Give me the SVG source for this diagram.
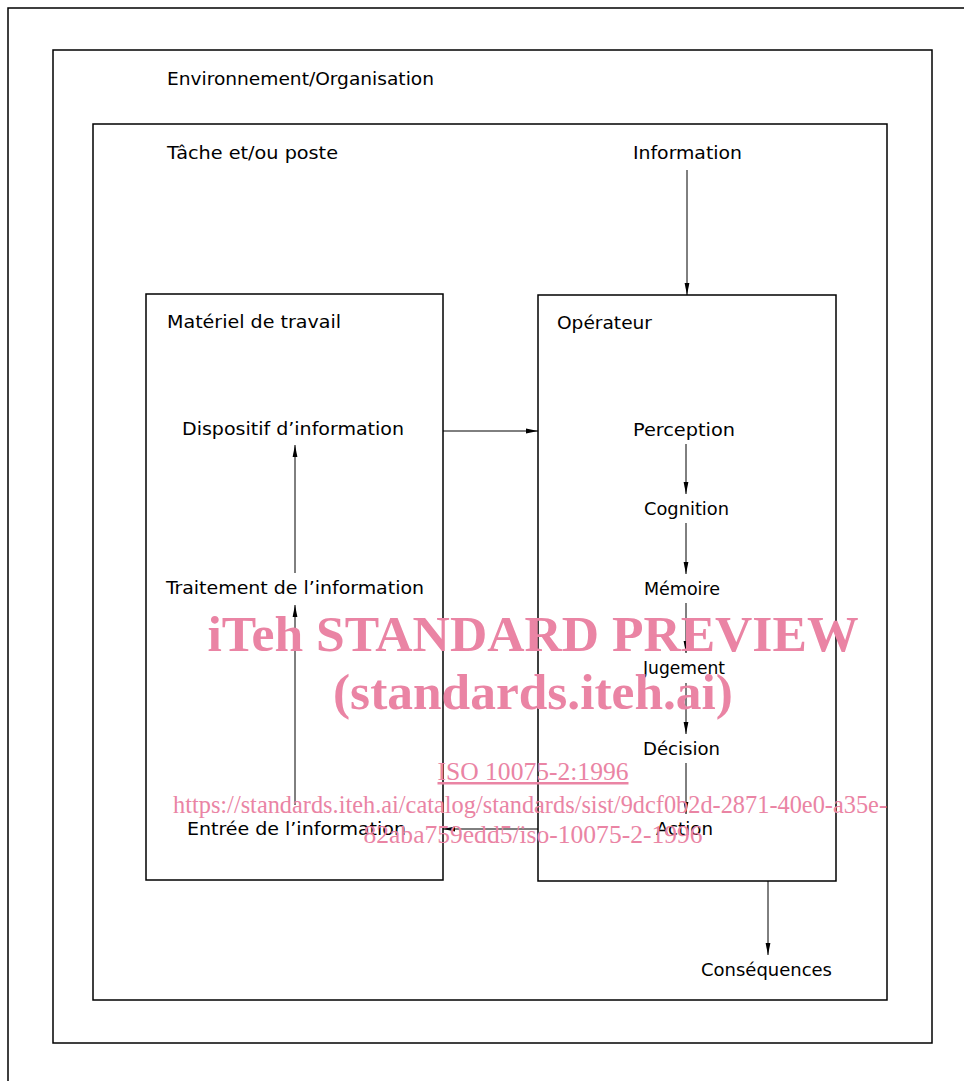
<svg xmlns="http://www.w3.org/2000/svg" width="964" height="1081" viewBox="0 0 964 1081">
<style>
.box{fill:none;stroke:#000;stroke-width:1.5}
.frame{fill:none;stroke:#000;stroke-width:1.5}
.t{font-family:"DejaVu Sans Condensed","DejaVu Sans",sans-serif;font-size:18px;fill:#000}
.ln{fill:none;stroke:#000;stroke-width:1}
.wm{font-family:"Liberation Serif",serif;fill:#ea84a4;text-anchor:middle}
</style>
<defs>
<marker id="ah" viewBox="0 0 12 6" refX="12" refY="3" markerWidth="12" markerHeight="6" markerUnits="userSpaceOnUse" orient="auto">
<path d="M0,0.6 L12,3 L0,5.4 Z" fill="#000"/>
</marker>
</defs>
<rect width="964" height="1081" fill="#fff"/>
<path class="frame" d="M964,8 L8,8 L8,1081"/>
<g id="environnement">
<rect class="box" x="53" y="50" width="879" height="993"/>
<text class="t" x="167" y="85" textLength="267" lengthAdjust="spacingAndGlyphs">Environnement/Organisation</text>
</g>
<g id="tache">
<rect class="box" x="93" y="124" width="794" height="876"/>
<text class="t" x="167" y="159" textLength="171" lengthAdjust="spacingAndGlyphs">Tâche et/ou poste</text>
</g>
<g id="information">
<text class="t" x="633" y="159" textLength="109" lengthAdjust="spacingAndGlyphs">Information</text>
</g>
<g id="materiel">
<rect class="box" x="146" y="294" width="297" height="586"/>
<text class="t" x="167" y="328" textLength="174" lengthAdjust="spacingAndGlyphs">Matériel de travail</text>
</g>
<g id="dispositif"><text class="t" x="182" y="435" textLength="222" lengthAdjust="spacingAndGlyphs">Dispositif d’information</text></g>
<g id="traitement"><text class="t" x="166" y="594" textLength="258" lengthAdjust="spacingAndGlyphs">Traitement de l’information</text></g>
<g id="entree"><text class="t" x="187" y="835" textLength="219" lengthAdjust="spacingAndGlyphs">Entrée de l’information</text></g>
<g id="operateur">
<rect class="box" x="538" y="295" width="298" height="586"/>
<text class="t" x="557" y="329" textLength="95" lengthAdjust="spacingAndGlyphs">Opérateur</text>
</g>
<g id="perception"><text class="t" x="633" y="436" textLength="102" lengthAdjust="spacingAndGlyphs">Perception</text></g>
<g id="cognition"><text class="t" x="644" y="515" textLength="85" lengthAdjust="spacingAndGlyphs">Cognition</text></g>
<g id="memoire"><text class="t" x="644" y="595" textLength="76" lengthAdjust="spacingAndGlyphs">Mémoire</text></g>
<g id="jugement"><text class="t" x="643" y="674" textLength="82" lengthAdjust="spacingAndGlyphs">Jugement</text></g>
<g id="decision"><text class="t" x="643" y="755" textLength="77" lengthAdjust="spacingAndGlyphs">Décision</text></g>
<g id="action"><text class="t" x="656" y="835" textLength="57" lengthAdjust="spacingAndGlyphs">Action</text></g>
<g id="consequences"><text class="t" x="701" y="976" textLength="131" lengthAdjust="spacingAndGlyphs">Conséquences</text></g>
<g id="connectors">
<line class="ln" x1="687" y1="170" x2="687" y2="295" marker-end="url(#ah)"/>
<line class="ln" x1="443" y1="431" x2="538" y2="431" marker-end="url(#ah)"/>
<line class="ln" x1="686" y1="444" x2="686" y2="494" marker-end="url(#ah)"/>
<line class="ln" x1="686" y1="523" x2="686" y2="574" marker-end="url(#ah)"/>
<line class="ln" x1="686" y1="603" x2="686" y2="653" marker-end="url(#ah)"/>
<line class="ln" x1="686" y1="683" x2="686" y2="734" marker-end="url(#ah)"/>
<line class="ln" x1="686" y1="763" x2="686" y2="814" marker-end="url(#ah)"/>
<line class="ln" x1="538" y1="829" x2="443" y2="829" marker-end="url(#ah)"/>
<line class="ln" x1="295" y1="573" x2="295" y2="445" marker-end="url(#ah)"/>
<line class="ln" x1="295" y1="805" x2="295" y2="605" marker-end="url(#ah)"/>
<line class="ln" x1="768" y1="881" x2="768" y2="955" marker-end="url(#ah)"/>
</g>
<g id="watermark">
<text class="wm" x="533" y="651" font-size="50" font-weight="bold" textLength="651" lengthAdjust="spacingAndGlyphs">iTeh STANDARD PREVIEW</text>
<text class="wm" x="533" y="709" font-size="50" font-weight="bold" textLength="400" lengthAdjust="spacingAndGlyphs">(standards.iteh.ai)</text>
<text class="wm" x="533" y="780" font-size="25" text-decoration="underline" textLength="191" lengthAdjust="spacingAndGlyphs">ISO 10075-2:1996</text>
<text class="wm" x="530" y="813" font-size="25" textLength="714" lengthAdjust="spacingAndGlyphs">https://standards.iteh.ai/catalog/standards/sist/9dcf0b2d-2871-40e0-a35e-</text>
<text class="wm" x="533" y="843" font-size="25" textLength="339" lengthAdjust="spacingAndGlyphs">82aba759edd5/iso-10075-2-1996</text>
</g>
</svg>
